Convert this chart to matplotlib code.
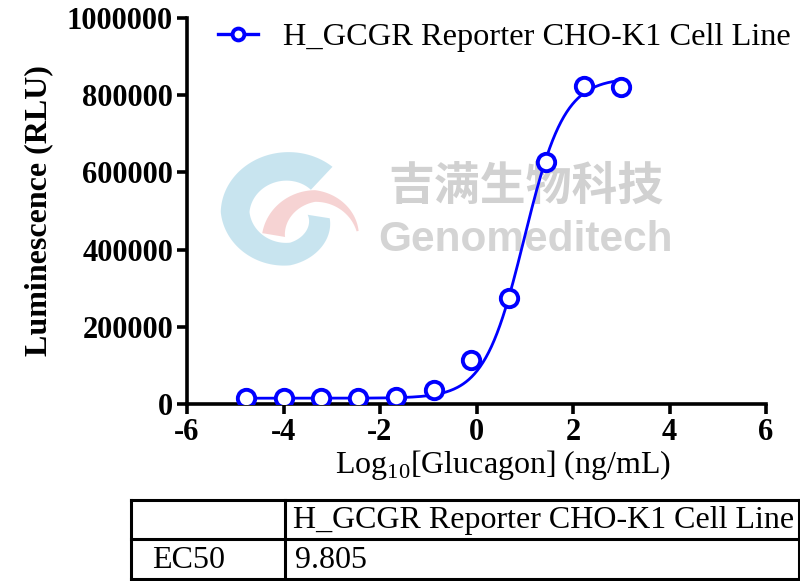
import numpy as np
import matplotlib
matplotlib.use("Agg")
import matplotlib.pyplot as plt
from matplotlib.patches import Polygon

plt.rcParams['font.family'] = ['Liberation Serif', 'DejaVu Serif']
plt.rcParams['axes.unicode_minus'] = False
plt.rcParams['mathtext.fontset'] = 'custom'
plt.rcParams['mathtext.rm'] = 'Liberation Serif'

# ---- data ----
series_name = "H_GCGR Reporter CHO-K1 Cell Line"
log_conc = [-4.78, -4.00, -3.22, -2.45, -1.67, -0.89, -0.11, 0.67, 1.44, 2.22, 3.00]
rlu = [15000, 15500, 15500, 14500, 17000, 36000, 114000, 274000, 628000, 824000, 820000]
# 4PL fit parameters
fit_bottom = 15000
fit_top = 845000
fit_ec50 = 9.805
fit_hill = 1.05
x_ticks = [-6, -4, -2, 0, 2, 4, 6]
y_ticks = [0, 200000, 400000, 600000, 800000, 1000000]
table_header = ["", "H_GCGR Reporter CHO-K1 Cell Line"]
table_row = ["EC50", "9.805"]

W, H = 800, 581
fig = plt.figure(figsize=(W / 100, H / 100), dpi=100)

def px(x0, y0, x1, y1):
    return [x0 / W, 1 - y1 / H, (x1 - x0) / W, (y1 - y0) / H]

# ---- watermark (behind) ----
wm = fig.add_axes([0, 0, 1, 1], zorder=0)
wm.set_xlim(0, W)
wm.set_ylim(H, 0)
wm.axis('off')

def band(cx, cy, sx, t_deg, r_pts, w_pts, n=200):
    t = np.radians(np.linspace(t_deg[0], t_deg[-1], n))
    r = np.interp(np.degrees(t), t_deg, r_pts) if t_deg[0] < t_deg[-1] else \
        np.interp(-np.degrees(t), [-a for a in t_deg], r_pts)
    w = np.linspace(w_pts[0], w_pts[1], n)
    ro, ri = r + w, r - w
    xo, yo = cx + sx * ro * np.cos(t), cy - ro * np.sin(t)
    xi, yi = cx + sx * ri * np.cos(t), cy - ri * np.sin(t)
    return np.column_stack([np.r_[xo, xi[::-1]], np.r_[yo, yi[::-1]]])

blue_shape = band(290, 212, 1.12, [50, 180, 270, 350], [44, 49, 42, 26], [15, 10])
wm.add_patch(Polygon(blue_shape, closed=True, fc=(0.75, 0.88, 0.93), ec='none',
                     alpha=0.85, joinstyle='round'))
pink_shape = band(315, 242, 1.05, [170, 90, 15], [40, 46, 42], [11, 1])
wm.add_patch(Polygon(pink_shape, closed=True, fc=(0.96, 0.80, 0.80), ec='none',
                     alpha=0.85))
wm.text(526, 187, "吉满生物科技", family=['Noto Sans CJK SC'], weight='bold',
        fontsize=33, color=(0.82, 0.82, 0.82), ha='center', va='center')
wm.text(526, 240, "Genomeditech", family=['Liberation Sans'], weight='bold',
        fontsize=30.5, color=(0.83, 0.83, 0.83), ha='center', va='center')

# ---- main axes ----
ax = fig.add_axes(px(187, 18, 766, 404), zorder=1)
ax.patch.set_alpha(0)
blue = (0, 0, 1)
xc = np.linspace(log_conc[0], log_conc[-1], 400)
yc = fit_bottom + (fit_top - fit_bottom) / (1 + 10 ** ((np.log10(fit_ec50) - xc) * fit_hill))
ax.plot(xc, yc, color=blue, lw=2.0, zorder=2)
ax.plot(log_conc, rlu, linestyle='none', marker='o', ms=12.5, mfc='white',
        mec=blue, mew=2.8, zorder=3)
h, = ax.plot([], [], color=blue, lw=2.4, marker='o', ms=8.5, mfc='white', mec=blue,
             mew=2.8)

ax.set_xlim(-6, 6)
ax.set_ylim(0, 1000000)
ax.set_xticks(x_ticks)
ax.set_yticks(y_ticks)
ax.set_xticklabels([str(t) for t in x_ticks], fontsize=22, weight='bold')
ax.set_yticklabels([str(t) for t in y_ticks], fontsize=22, weight='bold')
for s in ['top', 'right']:
    ax.spines[s].set_visible(False)
for s in ['left', 'bottom']:
    ax.spines[s].set_linewidth(2.6)
ax.tick_params(width=2.6, length=7, direction='out', pad=3)

ax.set_ylabel("Luminescence (RLU)", fontsize=23, weight='bold', labelpad=10)
ax.set_xlabel(r"Log$_{10}$[Glucagon] (ng/mL)", fontsize=23, labelpad=4)
ax.xaxis.set_label_coords((503 - 187) / (766 - 187), -0.115)

fig.legend([h], [series_name], loc='center left',
           bbox_to_anchor=(218 / W, 1 - 37 / H), frameon=False, fontsize=23.3,
           handlelength=1.25, handletextpad=0.75, borderpad=0, borderaxespad=0)

# ---- table ----
tb = fig.add_axes([0, 0, 1, 1], zorder=2)
tb.set_xlim(0, W)
tb.set_ylim(H, 0)
tb.axis('off')
x_l, x_m, x_r = 131, 285, 799
y_t, y_m, y_b = 500, 539, 579
lw = 2.2
for yy in (y_t, y_m, y_b):
    tb.plot([x_l, x_r], [yy, yy], color='black', lw=lw)
for xx in (x_l, x_m, x_r):
    tb.plot([xx, xx], [y_t, y_b], color='black', lw=lw)
tb.text(x_m + 8, (y_t + y_m) / 2 + 1, table_header[1], fontsize=23, va='center', ha='left')
tb.text(x_l + 21, (y_m + y_b) / 2 + 1, table_row[0], fontsize=23, va='center', ha='left')
tb.text(x_m + 10, (y_m + y_b) / 2 + 1, table_row[1], fontsize=23, va='center', ha='left')

fig.savefig("out.png", dpi=100)
